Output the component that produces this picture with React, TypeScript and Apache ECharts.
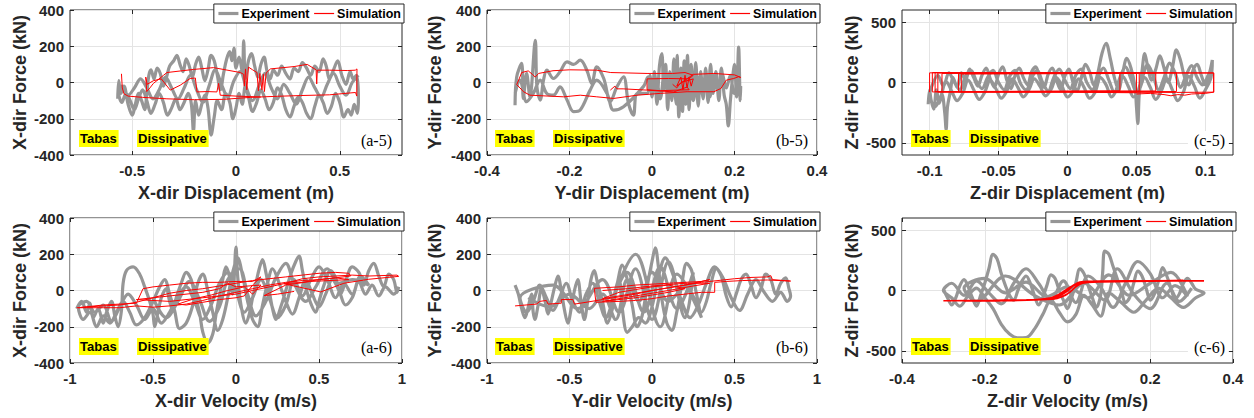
import React, { useEffect, useRef } from 'react';
import * as echarts from 'echarts';

// ---------- data ----------
const A5_EXP: number[][] = [
  [-0.57,-90],[-0.565,10],[-0.555,-60],[-0.54,-20],[-0.52,-120],[-0.5,-180],[-0.485,-120],[-0.47,-60],[-0.455,-100],[-0.44,-150],[-0.43,-60],[-0.42,40],[-0.41,70],[-0.395,20],[-0.38,80],[-0.365,50],[-0.35,-20],[-0.335,30],[-0.32,90],[-0.3,120],[-0.285,150],[-0.27,100],[-0.255,60],[-0.24,130],[-0.225,90],[-0.21,30],[-0.195,100],[-0.18,140],[-0.165,80],[-0.15,10],[-0.135,70],[-0.12,150],[-0.105,120],[-0.09,40],[-0.075,-40],[-0.06,50],[-0.045,130],[-0.03,170],[-0.02,120],[-0.01,190],[0.0,80],[0.015,140],[0.03,60],[0.037,230],[0.045,20],[0.06,120],[0.075,160],[0.09,90],[0.105,30],[0.12,100],[0.135,140],[0.15,60],[0.165,20],[0.18,70],[0.2,40],[0.22,90],[0.24,50],[0.26,20],[0.28,80],[0.3,60],[0.32,110],[0.34,80],[0.36,40],[0.38,90],[0.4,60],[0.42,130],[0.435,90],[0.45,20],[0.47,70],[0.49,120],[0.51,40],[0.53,-10],[0.55,60],[0.565,20],[0.58,40],[0.59,-90],
  [0.585,-170],[0.57,-120],[0.555,-180],[0.54,-150],[0.52,-190],[0.5,-110],[0.48,-60],[0.46,-130],[0.44,-170],[0.42,-110],[0.4,-70],[0.38,-130],[0.36,-200],[0.34,-170],[0.32,-110],[0.3,-80],[0.28,-130],[0.26,-190],[0.24,-150],[0.22,-70],[0.2,-30],[0.18,-110],[0.16,-150],[0.14,-90],[0.12,-40],[0.1,-110],[0.08,-160],[0.06,-80],[0.045,-20],[0.03,-120],[0.015,-60],[0.0,-140],[-0.015,-200],[-0.03,-110],[-0.05,-60],[-0.07,-150],[-0.09,-100],[-0.105,-190],[-0.12,-290],[-0.135,-140],[-0.15,-70],[-0.165,-120],[-0.18,-180],[-0.195,-100],[-0.205,-270],[-0.215,-120],[-0.23,-60],[-0.25,-110],[-0.27,-150],[-0.29,-90],[-0.31,-140],[-0.33,-180],[-0.35,-110],[-0.37,-60],[-0.39,-120],[-0.41,-170],[-0.43,-100],[-0.45,-40],[-0.47,-90],[-0.49,-150],[-0.51,-100],[-0.53,-60],[-0.55,-110],[-0.565,-60],
  [-0.55,-20],[-0.52,-70],[-0.49,-30],[-0.46,20],[-0.43,-30],[-0.4,-90],[-0.37,-40],[-0.34,30],[-0.31,-30],[-0.28,-90],[-0.25,-30],[-0.22,40],[-0.19,-40],[-0.16,-110],[-0.13,-20],[-0.1,70],[-0.07,-10],[-0.04,-80],[-0.01,10],[0.02,60],[0.05,-30],[0.08,-100],[0.11,-20],[0.14,50],[0.17,-30],[0.2,-90],[0.23,-10],[0.26,-60],[0.29,-120],[0.32,-40],[0.35,30],[0.38,-30],[0.41,-80],[0.44,-10],[0.47,50],[0.5,-20],[0.53,-70],[0.56,0],[0.59,40]
];
const A5_SIM: number[][] = [
  [-0.552,48],[-0.548,-30],[-0.54,-62],[-0.52,-75],[-0.45,-82],[-0.333,-90],[-0.2,-95],[-0.06,-93],[0.07,-82],[0.2,-76],[0.31,-72],[0.45,-68],[0.576,-55],[0.582,-75],[0.583,75],[0.575,68],[0.536,66],[0.45,68],[0.392,68],[0.389,-8],[0.386,70],[0.343,100],[0.28,88],[0.166,75],[0.145,52],[0.137,-50],[0.132,45],[0.125,-40],[0.115,50],[0.108,-45],[0.101,55],[0.08,70],[0.06,85],[0.052,-40],[0.046,75],[0.04,-20],[0.037,45],[0.021,55],[-0.108,82],[-0.205,72],[-0.333,55],[-0.349,40],[-0.398,-5],[-0.415,-30],[-0.43,-50],[-0.435,30],[-0.428,-10],[-0.398,10],[-0.36,20],[-0.317,-42],[-0.269,-15],[-0.221,22],[-0.196,25],[-0.188,-52],[-0.14,-50],[-0.092,-52],[-0.084,-5],[-0.076,-70],[0.0,-75],[0.12,-80]
];
const B5_EXP: number[][] = [
  [-0.332,-125],[-0.328,31],[-0.316,105],[-0.312,-88],[-0.304,50],[-0.296,-79],[-0.283,233],[-0.279,-24],[-0.271,-97],[-0.263,13],[-0.255,68],[-0.239,22],[-0.223,59],[-0.206,114],[-0.19,100],[-0.174,123],[-0.158,68],[-0.146,-6],[-0.134,86],[-0.117,22],[-0.101,-106],[-0.085,-24],[-0.069,31],[-0.057,-116],[-0.045,-180],[-0.036,-61],[-0.012,-60],
  [-0.005,40],[0.0,-80],[0.006,60],[0.012,-120],[0.018,90],[0.024,160],[0.028,-40],[0.033,100],[0.038,-150],[0.043,60],[0.048,-100],[0.053,130],[0.058,-60],[0.061,150],[0.065,-190],[0.07,80],[0.074,-160],[0.078,120],[0.082,-120],[0.086,150],[0.09,-150],[0.095,100],[0.1,-80],[0.106,110],[0.112,-130],[0.118,60],[0.124,-90],[0.13,80],[0.136,-110],[0.142,100],[0.148,-60],[0.155,60],[0.162,-100],[0.168,80],[0.175,-70],[0.18,-120],[0.185,-240],[0.19,-100],[0.195,20],[0.2,100],[0.205,-80],[0.21,196],[0.214,-100],[0.215,-20],
  [0.2,-60],[0.19,40],[0.18,-30],[0.17,50],[0.16,-50],[0.15,40],[0.14,-80],[0.13,40],[0.12,-60],[0.11,30],[0.1,-100],[0.09,60],[0.08,-70],[0.07,40],[0.06,-120],[0.05,30],[0.04,-60],[0.03,50],[0.02,-90],[0.01,20],[0.0,-40],[-0.01,30],[-0.02,-20],
  [-0.069,-134],[-0.093,-152],[-0.109,-61],[-0.134,13],[-0.15,-42],[-0.174,-152],[-0.19,-161],[-0.206,-97],[-0.223,-24],[-0.239,-70],[-0.255,-61],[-0.271,13],[-0.288,-61],[-0.304,-106],[-0.32,13],[-0.332,-61]
];
const B5_SIM: number[][] = [
  [-0.101,-42],[-0.09,-20],[-0.085,-35],[-0.07,-35],[-0.012,-42],[0.053,-52],[0.085,-25],[0.09,-40],[0.02,-45],[-0.012,-40],[-0.012,20],[0.04,22],[0.09,20],[0.1,40],[0.08,55],[0.05,50],[-0.012,50],[-0.1,55],[-0.134,68],[-0.2,70],[-0.24,65],[-0.275,50],[-0.283,30],[-0.29,45],[-0.3,64],[-0.316,55],[-0.322,20],[-0.328,-12],[-0.32,-30],[-0.312,-50],[-0.296,-70],[-0.214,-79],[-0.174,-70],[-0.134,-79],[-0.093,-88],[-0.036,-70],[0.02,-60],[0.085,-51],[0.15,-51],[0.167,-33],[0.18,13],[0.198,22],[0.21,32],[0.215,28],[0.2,42],[0.15,50],[0.1,45],[0.06,-20],[0.07,30],[0.075,-40],[0.08,40],[0.085,-30],[0.09,30],[0.095,-20],[0.1,20],[0.07,0],[0.06,-30],[0.05,-10]
];
const C5_EXP: number[][] = [
  [-0.101,-180],[-0.1,-60],[-0.099,-140],[-0.097,-220],[-0.095,-60],[-0.093,-170],[-0.091,-100],[-0.089,-250],[-0.088,-390],[-0.087,-200],[-0.085,-80],[-0.083,40],[-0.08,-40],[-0.077,80],[-0.074,20],[-0.071,110],[-0.068,40],[-0.065,-30],[-0.062,60],[-0.059,120],[-0.056,30],[-0.053,-40],[-0.05,70],[-0.047,130],[-0.044,20],[-0.041,-50],[-0.038,60],[-0.035,120],[-0.032,40],[-0.029,-20],[-0.026,90],[-0.023,130],[-0.02,30],[-0.017,-40],[-0.014,70],[-0.011,120],[-0.008,20],[-0.005,-60],[-0.002,50],[0.001,110],[0.004,0],[0.007,-70],[0.01,40],[0.013,150],[0.016,90],[0.019,-20],[0.022,80],[0.025,240],[0.028,325],[0.031,200],[0.034,40],[0.037,-60],[0.04,80],[0.043,200],[0.046,120],[0.049,-40],[0.05,-200],[0.051,-340],[0.052,-100],[0.054,90],[0.056,240],[0.058,140],[0.061,20],[0.064,110],[0.067,220],[0.07,120],[0.073,0],[0.076,120],[0.079,270],[0.082,180],[0.085,40],[0.088,-20],[0.091,100],[0.094,150],[0.097,60],[0.1,-20],[0.103,80],[0.105,186],
  [0.104,40],[0.1,-60],[0.096,-130],[0.092,-30],[0.088,50],[0.084,-80],[0.08,-150],[0.076,-60],[0.072,30],[0.068,-70],[0.064,-140],[0.06,-40],[0.056,40],[0.052,-60],[0.048,-120],[0.044,-30],[0.04,50],[0.036,-50],[0.032,-120],[0.028,-20],[0.024,40],[0.02,-80],[0.016,-130],[0.012,-40],[0.008,30],[0.004,-70],[0.0,-120],[-0.004,-30],[-0.008,40],[-0.012,-60],[-0.016,-110],[-0.02,-30],[-0.024,30],[-0.028,-60],[-0.032,-120],[-0.036,-40],[-0.04,30],[-0.044,-70],[-0.048,-130],[-0.052,-50],[-0.056,20],[-0.06,-80],[-0.064,-140],[-0.068,-60],[-0.072,20],[-0.076,-90],[-0.08,-150],[-0.084,-70],[-0.088,10],[-0.092,-120],[-0.096,-200],[-0.1,-100],
  [-0.098,-20],[-0.094,60],[-0.09,-30],[-0.086,80],[-0.082,0],[-0.078,-60],[-0.074,50],[-0.07,100],[-0.066,10],[-0.062,-50],[-0.058,40],[-0.054,100],[-0.05,0],[-0.046,-60],[-0.042,50],[-0.038,100],[-0.034,-10],[-0.03,-60],[-0.026,40],[-0.022,100],[-0.018,0],[-0.014,-70],[-0.01,40],[-0.006,110],[-0.002,20],[0.002,-50],[0.006,60],[0.01,110],[0.014,0],[0.018,-60],[0.022,40],[0.026,120],[0.03,20],[0.034,-80],[0.038,40],[0.042,130],[0.046,30],[0.05,-80],[0.054,30],[0.058,150],[0.062,60],[0.066,-60],[0.07,40],[0.074,160],[0.078,80],[0.082,-40],[0.086,60],[0.09,140],[0.094,40],[0.098,-20],[0.102,60],[0.105,130]
];
const C5_SIM: number[][] = [
  [-0.1,-80],[-0.1,80],[0.106,80],[0.106,-80],[0.079,-82],[-0.098,-78],[-0.098,82],[0.079,80],[0.079,-75],[-0.091,-75],[-0.091,75],[0.064,78],[0.064,-70],[-0.079,-78],[-0.079,78],[0.052,80],[0.052,-72],[-0.096,-75],[-0.096,82],[0.038,78],[0.038,-70],[-0.077,-75],[-0.077,70],[0.05,75],[0.05,-85],[0.0,-80],[-0.094,-80],[-0.094,80],[0.106,78],[0.106,-80],[0.1,-90],[0.09,-95],[0.085,-105],[0.08,-100],[0.075,-110],[0.07,-100],[0.06,-90],[0.05,-95]
];
const A6_EXP: number[][] = [
  [-0.96,-100],[-0.93,-60],[-0.9,-120],[-0.88,-70],[-0.86,-150],[-0.83,-100],[-0.8,-180],[-0.78,-120],[-0.75,-60],[-0.73,-140],[-0.71,-200],[-0.69,-110],[-0.68,40],[-0.66,110],[-0.62,130],[-0.58,90],[-0.55,20],[-0.52,-60],[-0.5,-130],[-0.49,-200],[-0.47,-120],[-0.45,-40],[-0.42,10],[-0.4,-60],[-0.38,-110],[-0.36,-40],[-0.33,40],[-0.3,100],[-0.27,60],[-0.25,-20],[-0.22,-120],[-0.2,-230],[-0.17,-290],[-0.14,-240],[-0.12,-130],[-0.1,-30],[-0.08,60],[-0.06,130],[-0.04,80],[-0.02,-20],[0.0,240],[0.01,80],[0.03,-80],[0.06,-180],[0.08,-130],[0.1,-40],[0.12,40],[0.14,120],[0.16,170],[0.18,100],[0.2,0],[0.22,-100],[0.24,-160],[0.27,-90],[0.3,0],[0.33,90],[0.36,160],[0.38,190],[0.4,110],[0.42,20],[0.45,-70],[0.48,-120],[0.5,-60],[0.53,30],[0.57,110],[0.6,70],[0.63,-20],[0.66,50],[0.7,130],[0.74,100],[0.77,30],[0.8,110],[0.83,150],[0.86,80],[0.89,20],[0.92,90],[0.95,60],[0.97,-10],[0.98,20],
  [0.95,-20],[0.9,20],[0.86,-30],[0.82,30],[0.78,-20],[0.74,50],[0.7,-40],[0.66,-80],[0.62,0],[0.58,60],[0.54,-20],[0.5,-90],[0.46,-20],[0.42,60],[0.38,-40],[0.34,-130],[0.3,-60],[0.26,40],[0.22,120],[0.19,40],[0.16,-80],[0.13,-200],[0.1,-160],[0.07,-60],[0.04,80],[0.01,180],[-0.02,100],[-0.05,-40],[-0.08,-160],[-0.11,-220],[-0.14,-120],[-0.17,0],[-0.2,90],[-0.23,40],[-0.26,-80],[-0.3,-180],[-0.34,-210],[-0.37,-110],[-0.4,-20],[-0.43,60],[-0.46,20],[-0.5,-60],[-0.55,-150],[-0.6,-190],[-0.64,-120],[-0.68,-60],[-0.72,-120],[-0.76,-180],[-0.8,-140],[-0.84,-200],[-0.88,-120],[-0.92,-160],[-0.95,-90],
  [-0.9,-60],[-0.85,-120],[-0.8,-80],[-0.75,-170],[-0.7,-90],[-0.65,-20],[-0.6,-80],[-0.55,-160],[-0.5,-100],[-0.45,-180],[-0.4,-120],[-0.35,-30],[-0.3,20],[-0.25,-60],[-0.2,-160],[-0.15,-80],[-0.1,40],[-0.05,100],[0,0],[0.05,-120],[0.1,-40],[0.15,60],[0.2,-40],[0.25,-150],[0.3,-80],[0.35,60],[0.4,-30],[0.45,60],[0.5,130],[0.55,60],[0.6,-40],[0.65,40],[0.7,-20],[0.75,80],[0.8,30],
  [0.7,60],[0.62,40],[0.55,120],[0.48,20],[0.42,-60],[0.35,40],[0.3,150],[0.24,70],[0.18,-60],[0.12,-140],[0.07,-20],[0.02,120],[-0.05,60],[-0.1,-90],[-0.16,-170],[-0.22,-50],[-0.28,50],[-0.35,-60],[-0.42,-150],[-0.5,-40]
];
const A6_SIM: number[][] = [
  [-0.96,-95],[-0.8,-85],[-0.7,-80],[-0.6,-65],[-0.5,-40],[-0.4,-15],[-0.3,0],[-0.2,10],[-0.1,25],[0,40],[0.1,55],[0.2,65],[0.3,75],[0.4,85],[0.5,95],[0.6,100],[0.68,95],[0.69,80],[0.6,70],[0.5,60],[0.4,55],[0.3,45],[0.2,30],[0.1,10],[0,-10],[-0.1,-30],[-0.2,-55],[-0.3,-75],[-0.4,-85],[-0.5,-92],[-0.6,-85],[-0.7,-95],[-0.8,-95],[-0.95,-95],[-0.8,-80],[-0.6,-70],[-0.56,10],[-0.5,20],[-0.4,30],[-0.3,40],[-0.2,45],[-0.1,45],[0,50],[0.1,50],[0.15,75],[0.1,30],[0.05,-30],[0,-40],[-0.1,-50],[-0.2,-65],[-0.3,-80],[-0.35,-75],[-0.25,-45],[-0.15,-25],[-0.05,0],[0.05,20],[0.1,-20],[0.15,30],[0.0,20],[-0.05,40],[-0.1,10],[-0.2,-10],[-0.4,-30],[-0.6,-50],[-0.4,-60],[-0.2,-40],[0,-20],[0.1,0],[0.2,20],[0.3,40],[0.4,65],[0.5,75],[0.6,80],[0.7,85],[0.8,80],[0.97,85],[0.98,78],[0.8,62],[0.65,40],[0.51,-8],[0.4,15],[0.29,37],[0.4,45],[0.5,60],[0.6,70],[0.68,60],[0.45,50],[0.3,30],[0.17,-28],[0.25,-20],[0.35,-5]
];
const B6_EXP: number[][] = [
  [-0.83,30],[-0.81,-20],[-0.79,-100],[-0.77,-150],[-0.75,-90],[-0.73,-20],[-0.72,-120],[-0.71,-160],[-0.69,-80],[-0.67,10],[-0.65,-50],[-0.63,-130],[-0.61,-60],[-0.59,20],[-0.57,80],[-0.55,0],[-0.53,-110],[-0.51,-180],[-0.49,-100],[-0.47,0],[-0.45,60],[-0.43,-60],[-0.41,-160],[-0.39,-60],[-0.37,60],[-0.35,110],[-0.33,40],[-0.3,-60],[-0.27,-180],[-0.24,-100],[-0.21,40],[-0.18,140],[-0.15,60],[-0.12,-80],[-0.09,-200],[-0.06,-140],[-0.03,20],[0.0,160],[0.02,235],[0.04,120],[0.06,-50],[0.09,-180],[0.12,-220],[0.15,-120],[0.18,30],[0.21,150],[0.24,110],[0.27,-20],[0.3,-120],[0.33,-60],[0.36,50],[0.39,120],[0.42,80],[0.45,-30],[0.48,-90],[0.51,-20],[0.54,60],[0.57,90],[0.6,30],[0.63,-40],[0.66,10],[0.69,90],[0.72,60],[0.75,-20],[0.78,40],[0.81,70],[0.83,10],[0.84,-30],[0.82,-60],
  [0.78,-10],[0.73,-60],[0.68,-10],[0.63,60],[0.58,-20],[0.53,-110],[0.48,-40],[0.43,70],[0.38,130],[0.33,40],[0.28,-80],[0.23,-150],[0.18,-60],[0.13,80],[0.08,180],[0.04,80],[0.0,-90],[-0.04,-180],[-0.08,-150],[-0.12,-200],[-0.15,-231],[-0.18,-100],[-0.2,60],[-0.24,-60],[-0.28,-150],[-0.32,-60],[-0.36,40],[-0.4,-20],[-0.44,-120],[-0.48,-60],[-0.52,40],[-0.56,-40],[-0.6,-110],[-0.64,-40],[-0.68,30],[-0.72,-60],[-0.76,-120],[-0.8,-40],
  [-0.6,30],[-0.45,-100],[-0.3,60],[-0.2,-120],[-0.1,120],[0,-160],[0.1,160],[0.2,-150],[0.25,100],[0.15,-100],[0.05,130],[-0.05,-120],[-0.15,100],[-0.25,-80],[-0.1,200],[0.05,-200],[0.15,90],
  [0.3,-150],[0.2,20],[0.1,-60],[0.0,100],[-0.08,-60],[-0.15,60],[-0.22,-160],[-0.3,-20],[-0.38,-100],[-0.5,-20],[-0.62,-90],[-0.75,-40]
];
const B6_SIM: number[][] = [
  [-0.83,-85],[-0.7,-75],[-0.68,-60],[-0.64,-55],[-0.63,-75],[-0.55,-70],[-0.55,-50],[-0.48,-50],[-0.47,-75],[-0.4,-65],[-0.3,-50],[-0.2,-35],[-0.1,-20],[0,0],[0.1,15],[0.2,30],[0.3,45],[0.4,55],[0.5,65],[0.6,72],[0.7,75],[0.72,82],[0.73,60],[0.84,52],[0.7,58],[0.55,55],[0.45,50],[0.38,45],[0.38,-10],[0.3,-10],[0.2,-20],[0.1,-30],[0,-45],[-0.1,-55],[-0.2,-60],[-0.34,-65],[-0.35,12],[-0.2,20],[-0.1,30],[0,35],[0.1,40],[0.2,45],[0.3,50],[0.35,60],[0.2,30],[0.1,15],[0,0],[-0.1,-15],[-0.2,-30],[-0.3,-45],[-0.2,-10],[-0.1,5],[0,20],[0.1,30],[0.2,10],[0.1,-10],[0,-25],[-0.1,-40],[-0.2,-50],[-0.3,-60],[-0.1,-30],[0.1,0],[0.25,25],[0.35,40],[0.2,40],[0,25],[-0.15,10],[-0.3,0]
];
const C6_EXP: number[][] = [
  [-0.3,10],[-0.29,-60],[-0.28,-120],[-0.27,-60],[-0.26,40],[-0.25,90],[-0.24,30],[-0.23,-60],[-0.22,-130],[-0.21,-40],[-0.2,60],[-0.19,180],[-0.18,300],[-0.17,260],[-0.16,140],[-0.15,40],[-0.14,-40],[-0.13,-80],[-0.12,0],[-0.11,80],[-0.1,120],[-0.09,60],[-0.08,-40],[-0.07,-120],[-0.06,-60],[-0.05,40],[-0.04,130],[-0.03,100],[-0.02,0],[-0.01,-80],[0.0,-150],[0.01,-60],[0.02,60],[0.03,180],[0.04,140],[0.05,40],[0.06,-60],[0.07,-140],[0.08,-40],[0.085,150],[0.09,326],[0.1,300],[0.11,200],[0.12,100],[0.13,0],[0.14,-100],[0.15,-60],[0.16,60],[0.17,160],[0.18,120],[0.19,20],[0.2,-80],[0.21,-30],[0.22,80],[0.23,190],[0.24,120],[0.25,20],[0.26,-70],[0.27,-30],[0.28,60],[0.29,100],[0.3,60],[0.31,10],[0.33,-20],
  [0.31,-60],[0.28,-140],[0.25,-60],[0.22,20],[0.19,-80],[0.16,-180],[0.13,-100],[0.1,-20],[0.08,-213],[0.06,-120],[0.04,-40],[0.02,-200],[0.0,-260],[-0.02,-180],[-0.04,-80],[-0.06,-200],[-0.08,-320],[-0.1,-390],[-0.12,-392],[-0.14,-360],[-0.16,-280],[-0.18,-150],[-0.2,-60],[-0.22,20],[-0.24,-40],[-0.26,-130],[-0.28,-60],[-0.3,0],
  [-0.28,60],[-0.25,-40],[-0.22,80],[-0.19,-20],[-0.16,-110],[-0.13,60],[-0.1,180],[-0.07,60],[-0.04,-80],[-0.01,80],[0.02,-100],[0.05,120],[0.08,30],[0.11,-140],[0.14,60],[0.17,240],[0.2,140],[0.23,-60],[0.26,40],[0.29,-50],[0.25,150],[0.2,60],[0.15,-40],[0.1,130],[0.05,-60],[0.0,30],[-0.05,-50],[-0.1,70],[-0.15,-20],[-0.2,100],[-0.25,20],
  [-0.22,-90],[-0.15,120],[-0.08,-40],[-0.02,-120],[0.04,60],[0.09,-80],[0.12,180],[0.16,-30],[0.2,-150],[0.24,60],[0.27,-90],[0.3,20]
];
const C6_SIM: number[][] = [
  [-0.3,-85],[-0.2,-83],[-0.1,-78],[-0.06,-72],[-0.03,-55],[-0.01,-20],[0.01,30],[0.025,60],[0.04,72],[0.08,78],[0.2,80],[0.33,80],
  [0.2,77],[0.1,75],[0.05,72],[0.03,65],[0.015,45],[0.0,10],[-0.015,-30],[-0.03,-60],[-0.06,-75],[-0.15,-80],[-0.25,-86],
  [-0.15,-84],[-0.08,-76],[-0.04,-60],[-0.02,-30],[0.0,15],[0.02,55],[0.03,70],[0.05,76],[0.15,79],[0.28,82],
  [0.15,74],[0.06,70],[0.035,60],[0.02,30],[0.005,-15],[-0.01,-45],[-0.025,-65],[-0.05,-75],[-0.12,-82],
  [-0.05,-68],[-0.02,-45],[0.0,-5],[0.015,40],[0.03,62],[0.06,74],[0.2,78],
  [0.05,66],[0.025,45],[0.01,0],[-0.005,-40],[-0.03,-68],[-0.1,-80],[-0.2,-85]
];

const EXP_DATA = [A5_EXP, B5_EXP, C5_EXP, A6_EXP, B6_EXP, C6_EXP];
const SIM_DATA = [A5_SIM, B5_SIM, C5_SIM, A6_SIM, B6_SIM, C6_SIM];

const X_RANGES = [[-0.8, 0.8], [-0.4, 0.4], [-0.12, 0.12], [-1, 1], [-1, 1], [-0.4, 0.4]];
const X_TICKS = [
  [-0.5, 0, 0.5], [-0.4, -0.2, 0, 0.2, 0.4], [-0.1, -0.05, 0, 0.05, 0.1],
  [-1, -0.5, 0, 0.5, 1], [-1, -0.5, 0, 0.5, 1], [-0.4, -0.2, 0, 0.2, 0.4]
];
const Y_RANGES = [[-400, 400], [-400, 400], [-600, 600], [-400, 400], [-400, 400], [-600, 600]];
const Y_TICKS = [
  [-400, -200, 0, 200, 400], [-400, -200, 0, 200, 400], [-500, 0, 500],
  [-400, -200, 0, 200, 400], [-400, -200, 0, 200, 400], [-500, 0, 500]
];
const X_NAMES = ['X-dir Displacement (m)', 'Y-dir Displacement (m)', 'Z-dir Displacement (m)', 'X-dir Velocity (m/s)', 'Y-dir Velocity (m/s)', 'Z-dir Velocity (m/s)'];
const Y_NAMES = ['X-dir Force (kN)', 'Y-dir Force (kN)', 'Z-dir Force (kN)', 'X-dir Force (kN)', 'Y-dir Force (kN)', 'Z-dir Force (kN)'];
const TAGS = ['(a-5)', '(b-5)', '(c-5)', '(a-6)', '(b-6)', '(c-6)'];
const SERIES_NAMES = ['Experiment', 'Simulation'];
const NOTES = ['Tabas', 'Dissipative'];

// ---------- layout ----------
const COL_LEFT = [70, 487, 902];
const COL_W = [332, 330, 331];
const ROW_TOP = [10, 218];
const PLOT_H = 145;
const LEGEND_RIGHT = [850, 434, 18];
const LEGEND_TOP = [4, 212];
const NOTE_X = [[79, 137], [495, 553], [911, 969]];
const NOTE_Y = [130, 338];
const TAG_RIGHT = [395, 811, 1228];
const TAG_CY = [140, 347];

const FONT = "'Liberation Sans', Arial, Helvetica, sans-serif";
const SERIF = "'Liberation Serif', 'Times New Roman', serif";
const DARK = '#262626';
const GRAY = '#969696';
const RED = '#ff0000';
const GRID_LINE = '#e4e4e4';

function buildOption() {
  const grid: any[] = [];
  const xAxis: any[] = [];
  const yAxis: any[] = [];
  const series: any[] = [];
  const legend: any[] = [];
  const graphic: any[] = [];

  for (let i = 0; i < 6; i++) {
    const col = i % 3;
    const row = Math.floor(i / 3);
    grid.push({
      left: COL_LEFT[col], top: ROW_TOP[row], width: COL_W[col], height: PLOT_H,
      show: true, borderColor: DARK, borderWidth: 1, backgroundColor: '#fff', containLabel: false
    });
    const tickStyle = { show: true, inside: true, length: 4, lineStyle: { color: DARK, width: 1 } };
    const noLine = { show: false, onZero: false };
    xAxis.push({
      type: 'value', gridIndex: i, min: X_RANGES[i][0], max: X_RANGES[i][1], position: 'bottom',
      axisLine: noLine,
      axisTick: { ...tickStyle, customValues: X_TICKS[i] },
      axisLabel: { customValues: X_TICKS[i], color: DARK, fontWeight: 'bold', fontSize: 15, fontFamily: FONT, margin: 8 },
      splitLine: { show: true, lineStyle: { color: GRID_LINE, width: 1 } },
      name: X_NAMES[i], nameLocation: 'middle', nameGap: 29,
      nameTextStyle: { color: DARK, fontWeight: 'bold', fontSize: 18, fontFamily: FONT }
    });
    xAxis.push({
      type: 'value', gridIndex: i, min: X_RANGES[i][0], max: X_RANGES[i][1], position: 'top',
      axisLine: noLine,
      axisTick: { ...tickStyle, customValues: X_TICKS[i] },
      axisLabel: { show: false, customValues: X_TICKS[i] },
      splitLine: { show: false }
    });
    yAxis.push({
      type: 'value', gridIndex: i, min: Y_RANGES[i][0], max: Y_RANGES[i][1], position: 'left',
      axisLine: noLine,
      axisTick: { ...tickStyle, customValues: Y_TICKS[i] },
      axisLabel: { customValues: Y_TICKS[i], color: DARK, fontWeight: 'bold', fontSize: 15, fontFamily: FONT, margin: 6 },
      splitLine: { show: true, lineStyle: { color: GRID_LINE, width: 1 } },
      name: Y_NAMES[i], nameLocation: 'middle', nameGap: col === 1 ? 43 : 41, nameRotate: 90,
      nameTextStyle: { color: DARK, fontWeight: 'bold', fontSize: 18, fontFamily: FONT }
    });
    yAxis.push({
      type: 'value', gridIndex: i, min: Y_RANGES[i][0], max: Y_RANGES[i][1], position: 'right',
      axisLine: noLine,
      axisTick: { ...tickStyle, customValues: Y_TICKS[i] },
      axisLabel: { show: false, customValues: Y_TICKS[i] },
      splitLine: { show: false }
    });
    series.push({
      name: SERIES_NAMES[0], type: 'line', xAxisIndex: i * 2, yAxisIndex: i * 2,
      data: EXP_DATA[i], showSymbol: false, symbol: 'none', smooth: 0.35, color: GRAY,
      lineStyle: { color: GRAY, width: 3.2 }, itemStyle: { color: GRAY }, z: 2
    });
    series.push({
      name: SERIES_NAMES[1], type: 'line', xAxisIndex: i * 2, yAxisIndex: i * 2,
      data: SIM_DATA[i], showSymbol: false, symbol: 'none', smooth: i === 5 ? 0.3 : false, color: RED,
      lineStyle: { color: RED, width: i === 5 ? 1.6 : 1 }, itemStyle: { color: RED }, z: 3
    });
    legend.push({
      data: [
        { name: SERIES_NAMES[0], itemStyle: { color: GRAY, opacity: 0 }, lineStyle: { color: GRAY, width: 3.2, opacity: 1 } },
        { name: SERIES_NAMES[1], itemStyle: { color: RED, opacity: 0 }, lineStyle: { color: RED, width: 1.2, opacity: 1 } }
      ],
      right: LEGEND_RIGHT[col], top: LEGEND_TOP[row], orient: 'horizontal',
      itemWidth: 20, itemHeight: 14, itemGap: 4, padding: [3, 3, 3, 3],
      backgroundColor: '#fff', borderColor: DARK, borderWidth: 1, borderRadius: 0,
      selectedMode: false,
      textStyle: { color: '#000', fontWeight: 'bold', fontSize: 12.5, fontFamily: FONT, padding: [0, 0, 0, -2] }
    });
    NOTES.forEach((t, k) => {
      graphic.push({
        type: 'text', x: NOTE_X[col][k], y: NOTE_Y[row], z: 10,
        style: {
          text: t, fill: '#000', font: `bold 13px ${FONT}`,
          backgroundColor: '#ffff00', padding: [2, 2, 2, 1], verticalAlign: 'top', align: 'left'
        }
      });
    });
    graphic.push({
      type: 'text', x: TAG_RIGHT[col], y: TAG_CY[row], z: 10,
      style: {
        text: TAGS[i], fill: '#000', font: `16px ${SERIF}`,
        backgroundColor: '#fff', padding: [1, 3, 1, 6], align: 'right', verticalAlign: 'middle'
      }
    });
  }

  return { animation: false, backgroundColor: '#fff', grid, xAxis, yAxis, series, legend, graphic };
}

export default function App() {
  const ref = useRef<HTMLDivElement>(null);
  useEffect(() => {
    if (!ref.current) return;
    const chart = echarts.init(ref.current, undefined, { renderer: 'svg' });
    chart.setOption(buildOption() as any);
    return () => chart.dispose();
  }, []);
  return (
    <div
      ref={ref}
      style={{ position: 'fixed', left: 0, top: 0, width: 1254, height: 418, background: '#fff' }}
    />
  );
}
